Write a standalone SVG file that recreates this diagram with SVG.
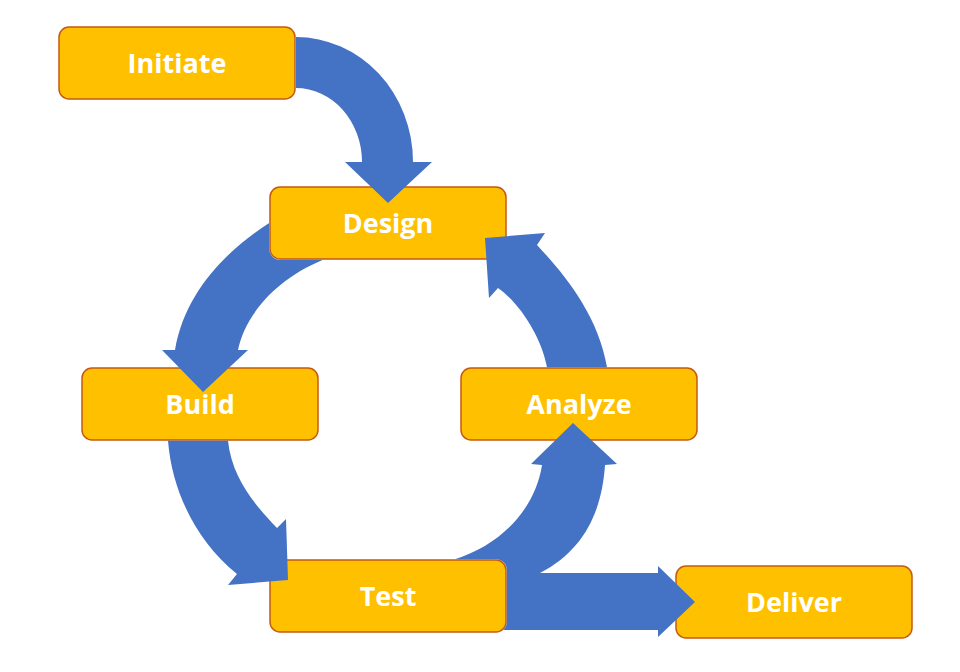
<svg xmlns="http://www.w3.org/2000/svg" width="960" height="672" viewBox="0 0 960 672">
<style>
.box{fill:#FFC000;stroke:#C55A11;stroke-width:1.5}
.lbl{fill:#FFFFFF;font-family:"Open Sans","Liberation Sans",sans-serif;font-weight:bold;font-size:27px;text-anchor:middle}
.arr{fill:#4472C4;stroke:none}
</style>
<rect width="960" height="672" fill="#FFFFFF"/>
<g id="initiate"><rect class="box" x="59" y="27" width="236" height="72" rx="10"/><text class="lbl" x="177" y="73">Initiate</text></g>
<g id="design"><rect class="box" x="270" y="187" width="236" height="72" rx="10"/><text class="lbl" x="388" y="233">Design</text></g>
<g id="build"><rect class="box" x="82" y="368" width="236" height="72" rx="10"/><text class="lbl" x="200" y="414">Build</text></g>
<g id="analyze"><rect class="box" x="461" y="368" width="236" height="72" rx="10"/><text class="lbl" x="579" y="414">Analyze</text></g>
<g id="test"><rect class="box" x="270" y="560" width="236" height="72" rx="10"/><text class="lbl" x="388" y="606">Test</text></g>
<g id="deliver"><rect class="box" x="676" y="566" width="236" height="72" rx="10"/><text class="lbl" x="794" y="612">Deliver</text></g>
<g id="connectors">
<path class="arr" d="M296,37 A117,125 0 0 1 413,162 L432,162 L388,203 L345,162 L362,162 A66,74 0 0 0 296,88 Z"/>
<path class="arr" d="M269.2,223 C230,248 185,290 175,350 L162,350 L203,392 L248,350 L238,350 C244,320 270,282 323,259.8 L280,259.8 A10.8,10.8 0 0 1 269.2,249 Z"/>
<path class="arr" d="M168,440.8 C172,490 195,540 237,574 L228,585 L288,580 L286,519 L277,528 C258,508 232,480 228,440.8 Z"/>
<path class="arr" d="M547,367.2 C542,340 522,305 498,288 L489,298 L485,238 L545,233 L537,245 C565,275 598,315 607,367.2 Z"/>
<path class="arr" d="M455,559.2 C500,545 535,510 542,465 L531,464 L573,423 L617,464 L605,465 C602,510 585,550 540,573 L506.8,573 L506.8,570 A10.8,10.8 0 0 0 496,559.2 Z"/>
<path class="arr" d="M506.8,573 L658,573 L658,566 L695,602 L658,637 L658,630 L503.3,630 A10.8,10.8 0 0 0 506.8,622 Z"/>
</g>
</svg>
